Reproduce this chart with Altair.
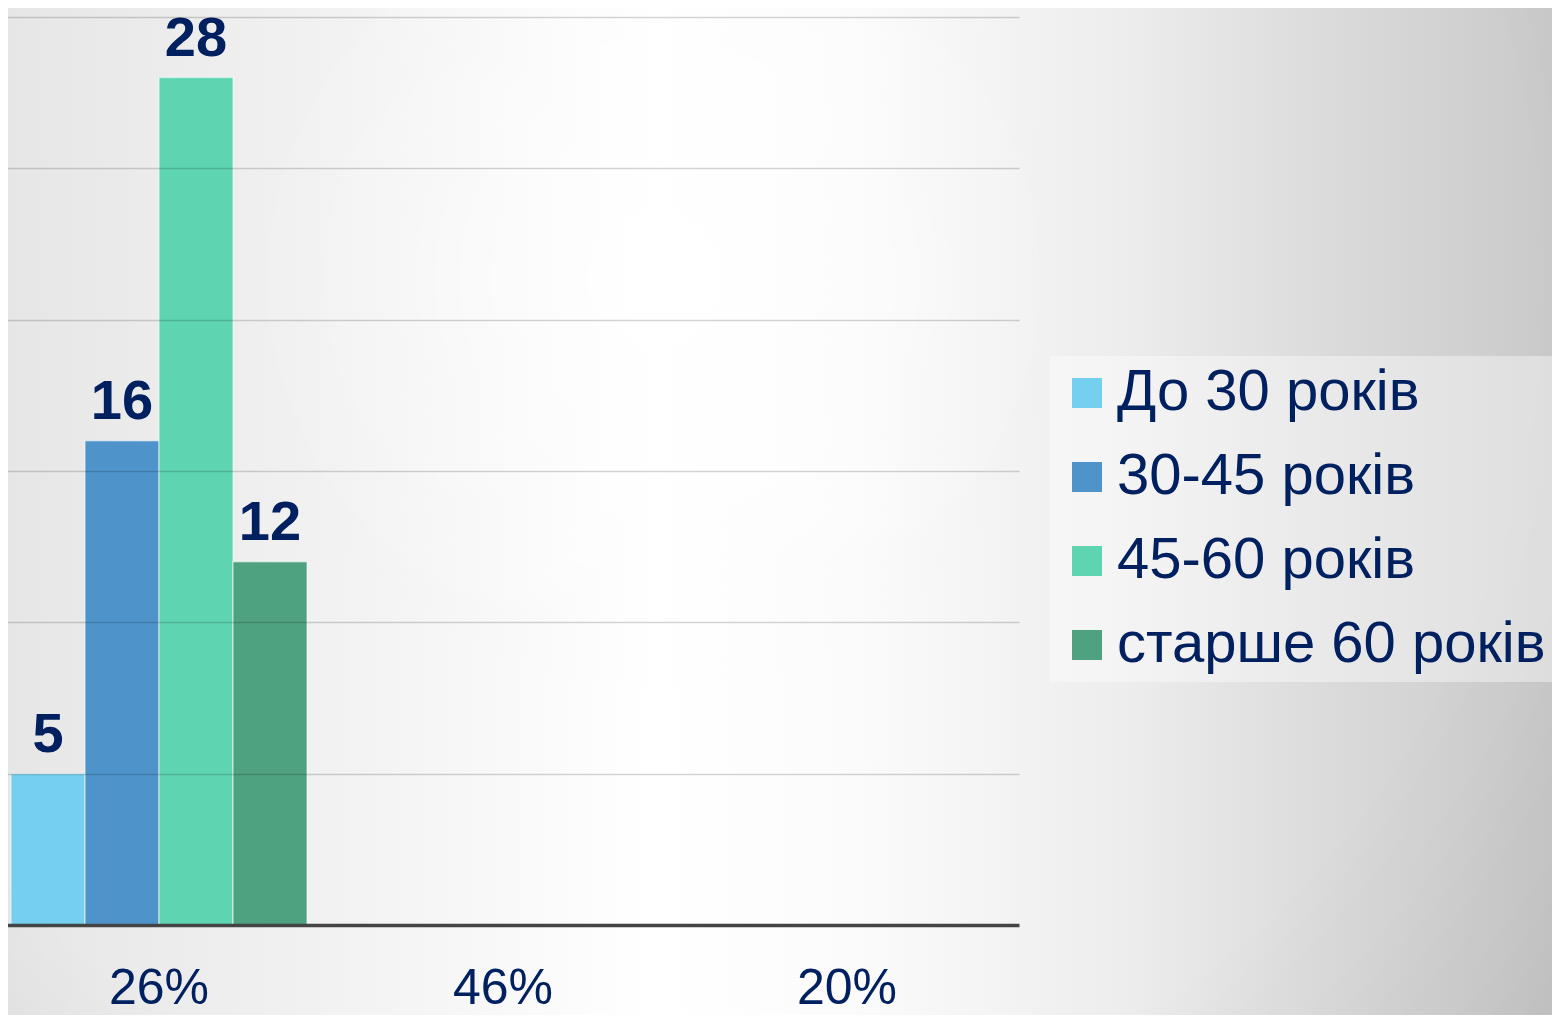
import altair as alt
import pandas as pd

categories = ["26%", "46%", "20%"]
series = ["До 30 років", "30-45 років", "45-60 років", "старше 60 років"]
values = [5, 16, 28, 12]
bar_category = ["26%", "26%", "26%", "26%"]
colors = ["#75CFEF", "#4E94CB", "#5ED5B0", "#4FA27F"]
y_ticks = [0, 5, 10, 15, 20, 25, 30]

df = pd.DataFrame({"cat": bar_category, "series": series, "value": values})
bg_df = pd.DataFrame({"k": [0]})

NAVY = "#002060"
FONT = "Liberation Sans"

# slide background: light in the middle-left, greyer to the sides
bg = alt.Chart(bg_df).mark_rect(
    color=alt.LinearGradient(
        gradient="linear",
        x1=0, y1=0, x2=1, y2=0,
        stops=[
            alt.GradientStop(offset=0.0, color="#e6e6e6"),
            alt.GradientStop(offset=0.25, color="#f4f4f4"),
            alt.GradientStop(offset=0.42, color="#ffffff"),
            alt.GradientStop(offset=0.55, color="#fbfbfb"),
            alt.GradientStop(offset=0.72, color="#ededed"),
            alt.GradientStop(offset=0.85, color="#dbdbdb"),
            alt.GradientStop(offset=1.0, color="#c9c9c9"),
        ],
    )
).encode(
    x=alt.value(-8), x2=alt.value(1552), y=alt.value(-17), y2=alt.value(1008)
)

# soft darkening toward the corners
vignette = alt.Chart(bg_df).mark_rect(
    color=alt.RadialGradient(
        gradient="radial",
        x1=0.42, y1=0.35, r1=0.0,
        x2=0.42, y2=0.35, r2=0.75,
        stops=[
            alt.GradientStop(offset=0.0, color="rgba(255,255,255,0.6)"),
            alt.GradientStop(offset=0.35, color="rgba(255,255,255,0.0)"),
            alt.GradientStop(offset=0.75, color="rgba(0,0,0,0.0)"),
            alt.GradientStop(offset=1.0, color="rgba(0,0,0,0.05)"),
        ],
    )
).encode(
    x=alt.value(-8), x2=alt.value(1552), y=alt.value(-17), y2=alt.value(1008)
)

x_enc = alt.X(
    "cat:N",
    scale=alt.Scale(domain=categories, range=[-21, 1011], paddingInner=0.1395, paddingOuter=0.0698),
    axis=alt.Axis(
        title=None, domain=False, ticks=False, tickSize=0, grid=False, labelAngle=0,
        labelFont=FONT, labelFontSize=50, labelColor=NAVY,
        labelBaseline="alphabetic", labelPadding=78, zindex=1,
    ),
)
y_enc = alt.Y(
    "value:Q",
    scale=alt.Scale(domain=[0, 30], nice=False),
    axis=alt.Axis(
        title=None, labels=False, ticks=False, domain=False, values=y_ticks,
        grid=True, zindex=1,
        gridColor={"condition": {"test": "datum.value === 0", "value": "#444444"}, "value": "rgba(0,0,0,0.17)"},
        gridWidth={"condition": {"test": "datum.value === 0", "value": 3.5}, "value": 1.5},
    ),
)
xoff = alt.XOffset("series:N", sort=series, scale=alt.Scale(paddingInner=0, paddingOuter=0))

bars = alt.Chart(df).mark_bar(
    opacity=1, stroke="#ffffff", strokeOpacity=0.45, strokeWidth=1.5
).encode(
    x=x_enc,
    xOffset=xoff,
    y=y_enc,
    color=alt.Color(
        "series:N",
        sort=series,
        scale=alt.Scale(domain=series, range=colors),
        legend=alt.Legend(
            title=None, orient="none", legendX=1042, legendY=339,
            symbolType="square", symbolSize=900, symbolStrokeWidth=0, symbolOpacity=1,
            labelFont=FONT, labelFontSize=58, labelColor=NAVY, labelOffset=1,
            labelLimit=0, rowPadding=26, padding=8,
            fillColor="rgba(255,255,255,0.4)",
        ),
    ),
)

labels = alt.Chart(df).mark_text(
    font=FONT, fontSize=56, fontWeight="bold", color=NAVY,
    baseline="alphabetic", align="center", dy=-22,
).encode(
    x=alt.X("cat:N"),
    xOffset=alt.XOffset("series:N", sort=series),
    y=alt.Y("value:Q"),
    text=alt.Text("value:Q"),
)

chart = alt.layer(bg, vignette, bars, labels).properties(
    width=1012, height=908,
    padding={"left": 0, "top": 9, "right": 532, "bottom": 90},
    autosize=alt.AutoSizeParams(type="none"),
).configure_view(stroke=None).configure(background="#e6e6e6")

chart.save("out.html", embed_options={"renderer": "svg", "actions": False})
